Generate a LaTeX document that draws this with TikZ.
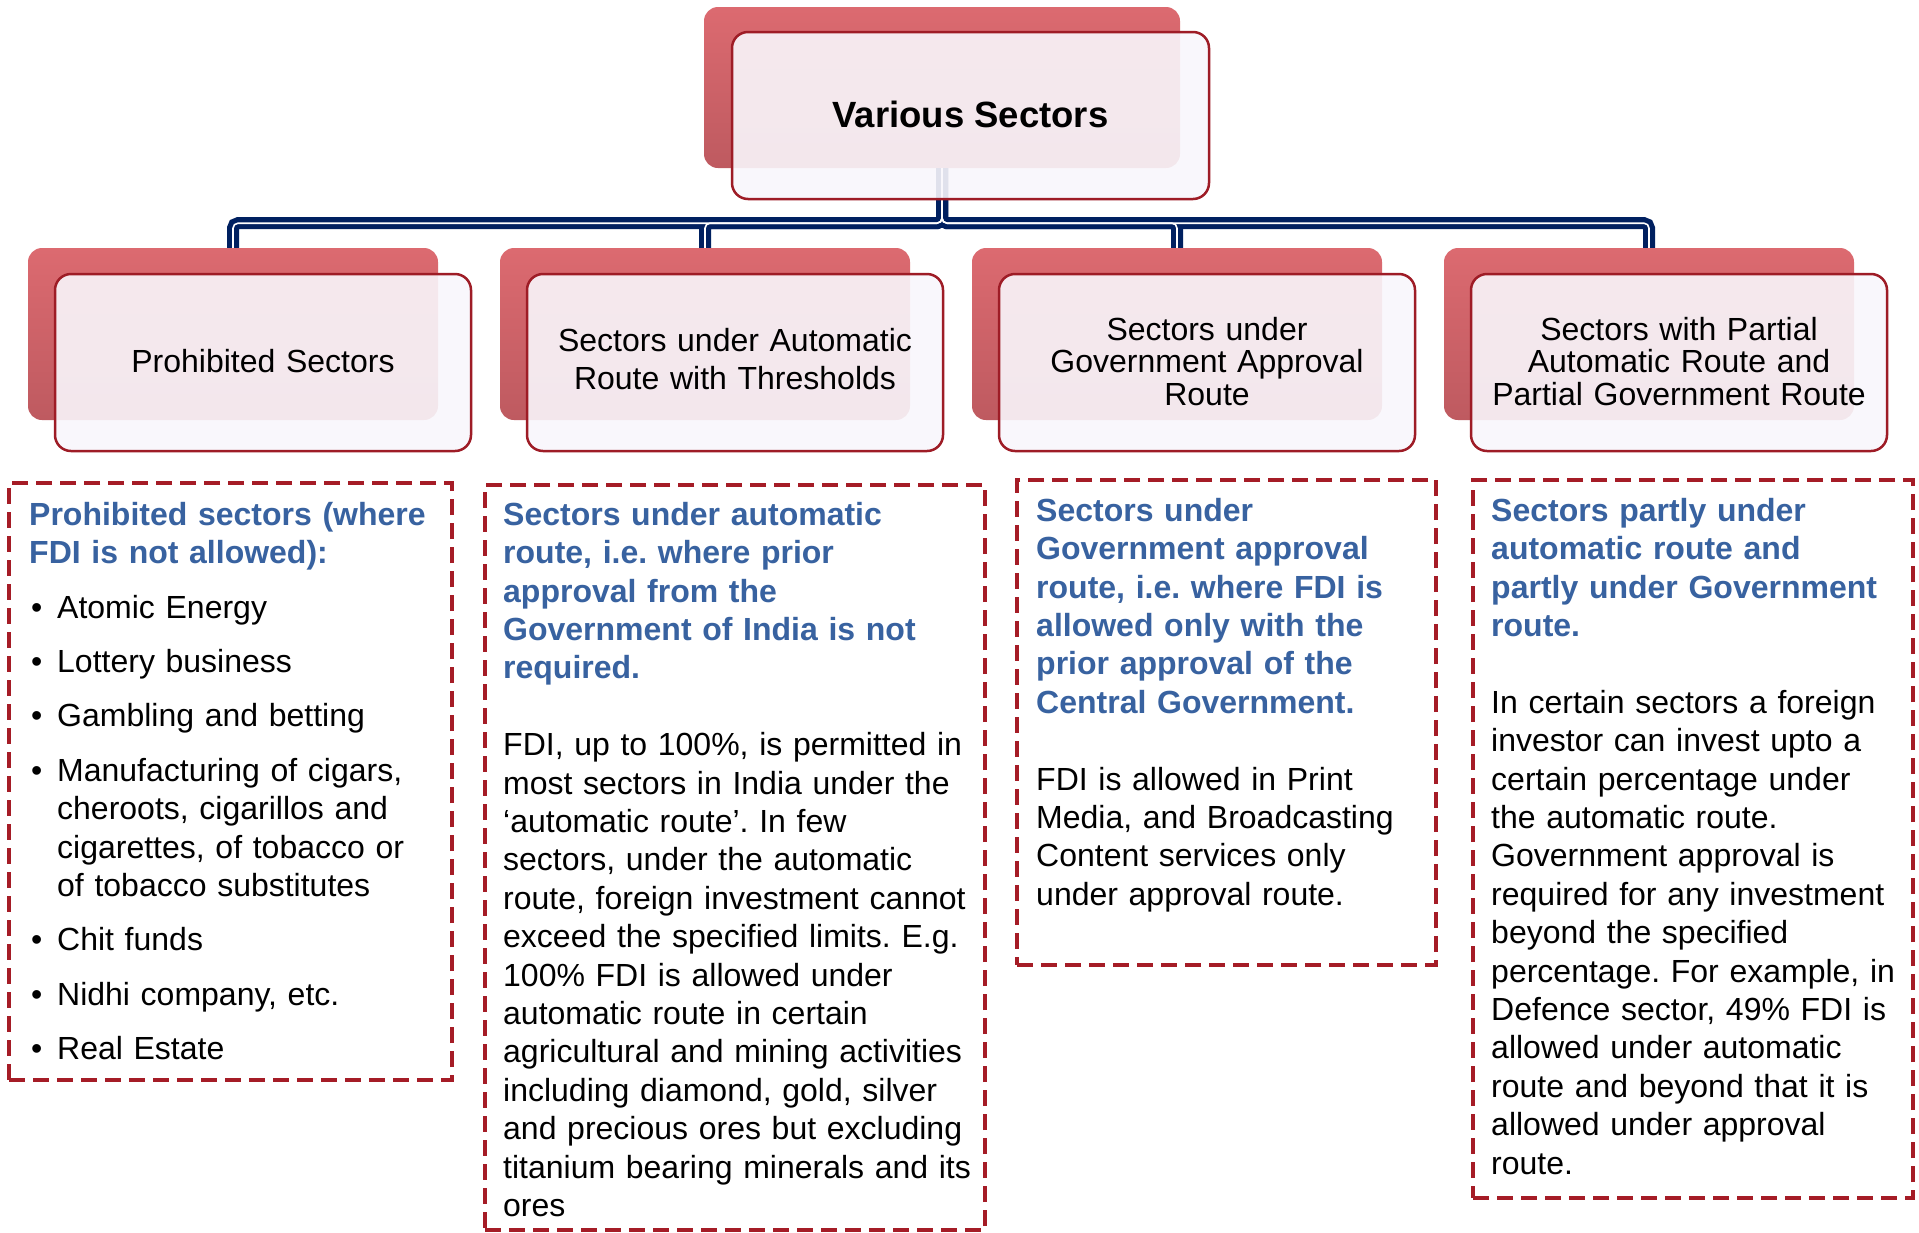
\documentclass[tikz,border=0pt]{standalone}
\usepackage{fontspec}
\setmainfont{Liberation Sans}
\frenchspacing
\definecolor{hblue}{RGB}{56,98,160}
\definecolor{dred}{RGB}{165,28,38}
\definecolor{frontred}{RGB}{158,28,38}
\definecolor{frontfill}{RGB}{249,247,252}
\definecolor{navy}{RGB}{0,32,96}
\definecolor{backtop}{RGB}{220,106,112}
\definecolor{backbot}{RGB}{190,90,96}
\newcommand\mystrut{\rule{0pt}{27pt}}
\newcommand\mybul{\makebox[28pt][l]{\hspace{2pt}•}}
\newcommand\myind{\hspace*{28pt}}
\begin{document}
\begin{tikzpicture}[x=1pt,y=-1pt,
  backbox/.style={rectangle, rounded corners=14pt, top color=backtop, bottom color=backbot, draw=none, minimum width=410pt, minimum height=172pt, inner sep=0pt},
  frontbox/.style={rectangle, rounded corners=16pt, draw=frontred, line width=2.5pt, fill=frontfill, fill opacity=0.9, minimum width=416pt, minimum height=177pt, inner sep=0pt},
  dashbox/.style={rectangle, draw=dred, line width=4pt, dash pattern=on 16pt off 8pt, inner sep=0pt},
  conn/.style={draw=navy, line width=12pt, rounded corners=5pt},
  conninner/.style={draw=white, line width=1.6pt, rounded corners=5pt},
  lbl/.style={text width=430pt, align=center, inner sep=0pt, anchor=north},
  body/.style={text width=520pt, align=left, inner sep=0pt, anchor=north west, font=\fontsize{32}{38.4}\selectfont},
]
\fill[white] (0,0) rectangle (1919,1232);
\useasboundingbox (0,0) rectangle (1919,1232);

% back boxes
\node[backbox, minimum width=476pt, minimum height=161pt] (b0) at (942,87.5) {};
\node[backbox] (b1) at (233,334) {};
\node[backbox] (b2) at (705,334) {};
\node[backbox] (b3) at (1177,334) {};
\node[backbox] (b4) at (1649,334) {};

% connectors
\foreach \t in {b1,b2,b3,b4}{
  \draw[conn] (b0.south) -- ++(0,55) -| (\t.north);
}
\foreach \t in {b1,b2,b3,b4}{
  \draw[conninner] (b0.south) -- ++(0,55) -| (\t.north);
}

% front boxes
\node[frontbox, minimum width=477pt, minimum height=167pt] (f0) at (970.5,115.5) {};
\node[frontbox] (f1) at (263,362.5) {};
\node[frontbox] (f2) at (735,362.5) {};
\node[frontbox] (f3) at (1207,362.5) {};
\node[frontbox] (f4) at (1679,362.5) {};

% titles
\node[anchor=base, inner sep=0pt, font=\fontsize{36.5}{40}\selectfont\bfseries] (t0) at (970.5,127) {Various Sectors};
\node[lbl, font=\fontsize{32}{38}\selectfont] (l1) at (263,345) {\mystrut Prohibited Sectors};
\node[lbl, font=\fontsize{32}{38}\selectfont] (l2) at (735,324) {\mystrut Sectors under Automatic\\ Route with Thresholds};
\node[lbl, font=\fontsize{32}{32.5}\selectfont] (l3) at (1207,313) {\mystrut Sectors under\\ Government Approval\\ Route};
\node[lbl, font=\fontsize{32}{32.5}\selectfont] (l4) at (1679,313) {\mystrut Sectors with Partial\\ Automatic Route and\\ Partial Government Route};

% dashed boxes
\node[dashbox, minimum width=443pt, minimum height=597pt] (d1) at (230.5,781.5) {};
\node[dashbox, minimum width=500pt, minimum height=745pt] (d2) at (735,857.5) {};
\node[dashbox, minimum width=419pt, minimum height=485pt] (d3) at (1226.5,722.5) {};
\node[dashbox, minimum width=440pt, minimum height=718pt] (d4) at (1693,839) {};

% texts
\node[body] (x1) at (29,498) {\mystrut\color{hblue}\bfseries Prohibited sectors (where\\ FDI is not allowed):\\[16pt]
\color{black}\mdseries\mybul Atomic Energy\\[16pt]
\mybul Lottery business\\[16pt]
\mybul Gambling and betting\\[16pt]
\mybul Manufacturing of cigars,\\
\myind cheroots, cigarillos and\\
\myind cigarettes, of tobacco or\\
\myind of tobacco substitutes\\[16pt]
\mybul Chit funds\\[16pt]
\mybul Nidhi company, etc.\\[16pt]
\mybul Real Estate};

\node[body] (x2) at (503,498) {\mystrut\color{hblue}\bfseries Sectors under automatic\\ route, i.e. where prior\\ approval from the\\ Government of India is not\\ required.\\[38.4pt]
\color{black}\mdseries FDI, up to 100\%, is permitted in\\ most sectors in India under the\\ ‘automatic route’. In few\\ sectors, under the automatic\\ route, foreign investment cannot\\ exceed the specified limits. E.g.\\ 100\% FDI is allowed under\\ automatic route in certain\\ agricultural and mining activities\\ including diamond, gold, silver\\ and precious ores but excluding\\ titanium bearing minerals and its\\ ores};

\node[body] (x3) at (1036,494) {\mystrut\color{hblue}\bfseries Sectors under\\ Government approval\\ route, i.e. where FDI is\\ allowed only with the\\ prior approval of the\\ Central Government.\\[38.4pt]
\color{black}\mdseries FDI is allowed in Print\\ Media, and Broadcasting\\ Content services only\\ under approval route.};

\node[body] (x4) at (1491,494) {\mystrut\color{hblue}\bfseries Sectors partly under\\ automatic route and\\ partly under Government\\ route.\\[38.4pt]
\color{black}\mdseries In certain sectors a foreign\\ investor can invest upto a\\ certain percentage under\\ the automatic route.\\ Government approval is\\ required for any investment\\ beyond the specified\\ percentage. For example, in\\ Defence sector, 49\% FDI is\\ allowed under automatic\\ route and beyond that it is\\ allowed under approval\\ route.};
\end{tikzpicture}
\end{document}
